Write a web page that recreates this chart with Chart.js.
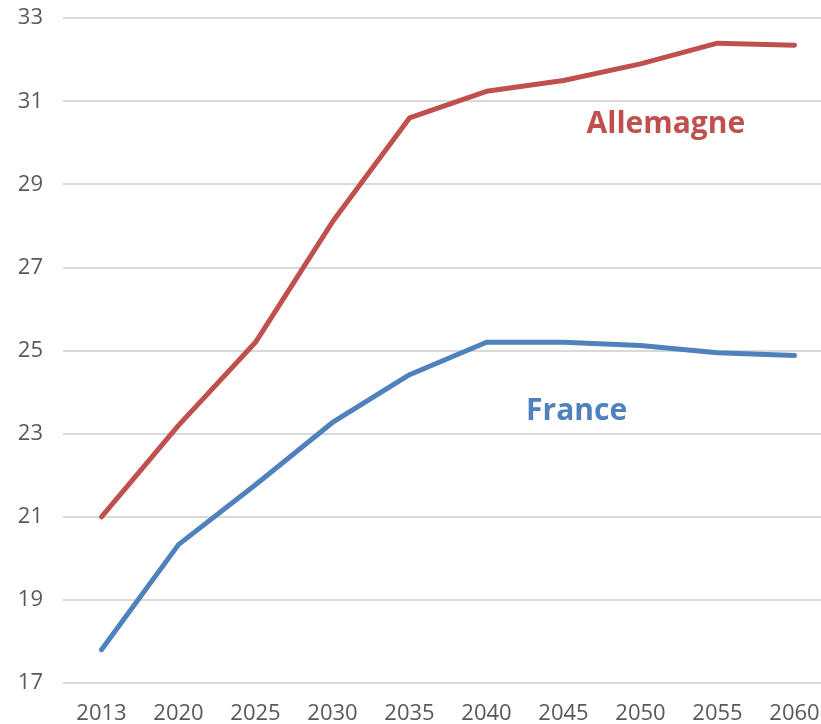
<!DOCTYPE html>
<html>
<head>
<meta charset="utf-8">
<script src="https://cdn.jsdelivr.net/npm/chart.js@4/dist/chart.umd.min.js"></script>
<style>
  html, body { margin: 0; padding: 0; background: #fff; overflow: hidden; }
  #wrap { width: 833px; height: 739px; margin-top: -15px; }
</style>
</head>
<body>
<div id="wrap"><canvas id="chart"></canvas></div>
<script>
const years = ['2013', '2020', '2025', '2030', '2035', '2040', '2045', '2050', '2055', '2060']
const allemagne = [21.0, 23.2, 25.2, 28.1, 30.6, 31.24, 31.5, 31.9, 32.4, 32.35]
const france = [17.8, 20.33, 21.77, 23.27, 24.42, 25.2, 25.2, 25.12, 24.95, 24.88]
const y_ticks = [17, 19, 21, 23, 25, 27, 29, 31, 33]

const red_color = '#C0504D'
const blue_color = '#4F81BD'

// series names drawn inside the plot, anchored on data coordinates
const seriesLabels = {
  id: 'seriesLabels',
  afterDatasetsDraw(chart) {
    const ctx = chart.ctx
    const x = chart.scales.x
    const y = chart.scales.y
    const items = [
      { text: 'Allemagne', idx: 7.33, val: 30.45, color: red_color, size: 30 },
      { text: 'France', idx: 6.17, val: 23.53, color: blue_color, size: 30 },
    ]
    ctx.save()
    ctx.textAlign = 'center'
    ctx.textBaseline = 'middle'
    items.forEach(function (it) {
      const step = x.getPixelForValue(1) - x.getPixelForValue(0)
      const px = x.getPixelForValue(0) + it.idx * step
      ctx.font = 'bold ' + it.size + 'px "Open Sans"'
      ctx.fillStyle = it.color
      ctx.fillText(it.text, px, y.getPixelForValue(it.val))
    })
    ctx.restore()
  }
}

new Chart(
  document.getElementById('chart'),
  {
    type: 'line',
    data: {
      labels: years,
      datasets: [
        {
          label: 'Allemagne',
          data: allemagne,
          borderColor: red_color,
          borderWidth: 5,
          pointRadius: 0,
          tension: 0,
          borderCapStyle: 'round',
          borderJoinStyle: 'round',
        },
        {
          label: 'France',
          data: france,
          borderColor: blue_color,
          borderWidth: 5,
          pointRadius: 0,
          tension: 0,
          borderCapStyle: 'round',
          borderJoinStyle: 'round',
        }
      ]
    },
    options: {
      responsive: true,
      maintainAspectRatio: false,
      animation: false,
      layout: { padding: { top: 0, left: 0, right: 0, bottom: 0 } },
      plugins: {
        legend: false,
        tooltip: false,
      },
      scales: {
        x: {
          offset: true,
          grid: { display: false },
          border: { display: false },
          ticks: { color: '#595959', font: { family: 'Open Sans', size: 22 }, padding: 10, maxRotation: 0 },
          afterFit: function (axis) { axis.height = 41 },
        },
        y: {
          min: 17,
          max: 33,
          afterBuildTicks: function (axis) {
            axis.ticks = y_ticks.map((v) => ({ value: v }))
          },
          grid: { color: '#d9d9d9', lineWidth: 2, drawTicks: false },
          border: { display: false },
          ticks: { color: '#595959', font: { family: 'Open Sans', size: 22 }, padding: 20 },
          afterFit: function (axis) { axis.width = 63 },
        }
      }
    },
    plugins: [seriesLabels]
  }
);
</script>
</body>
</html>
